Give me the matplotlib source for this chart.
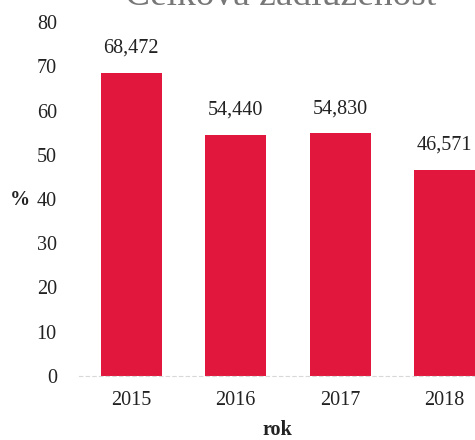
import matplotlib.pyplot as plt

# Celková zadluženost podle let
roky = ["2015", "2016", "2017", "2018"]
zadluzenost = [68.472, 54.440, 54.830, 46.571]
y_ticks = [0, 10, 20, 30, 40, 50, 60, 70, 80]

plt.rcParams['font.family'] = ['Liberation Serif', 'DejaVu Serif']

fig = plt.figure(figsize=(4.75, 4.40), dpi=100)
ax = fig.add_axes([79 / 475, 1 - 376 / 440, 1 - 79 / 475, (376 - 22) / 440])

x = range(len(roky))
bars = ax.bar(x, zadluzenost, width=0.58, color='#E2173D', zorder=2)

for xi, v in zip(x, zadluzenost):
    ax.annotate(f"{v:.3f}".replace('.', ','), (xi, v), xytext=(0, 11),
                textcoords='offset points', ha='center', va='bottom',
                fontsize=14.5, color='#222222')

ax.set_xlim(-0.5, 3.29)
ax.set_ylim(0, 80)
ax.set_yticks(y_ticks)
ax.set_xticks(list(x))
ax.set_xticklabels(roky)
ax.tick_params(axis='both', length=0, labelsize=14.5, colors='#222222')
ax.tick_params(axis='y', pad=16)
ax.tick_params(axis='x', pad=11)

for s in ['top', 'right', 'left']:
    ax.spines[s].set_visible(False)
ax.spines['bottom'].set_color('#d8d8d8')
ax.spines['bottom'].set_linestyle((0, (3, 3)))

ax.set_xlabel('rok', fontsize=14.5, fontweight='bold', color='#222222', labelpad=7)
fig.text(20 / 475, 1 - 200 / 440, '%', fontsize=14.5, fontweight='bold',
         color='#222222', ha='center', va='center')

# titulek je v originálu nahoře oříznutý
fig.text(281 / 475, 1 - 5 / 440, 'Celková zadluženost', fontsize=27,
         color='#777777', ha='center', va='baseline')

fig.savefig('out.png', dpi=100)
